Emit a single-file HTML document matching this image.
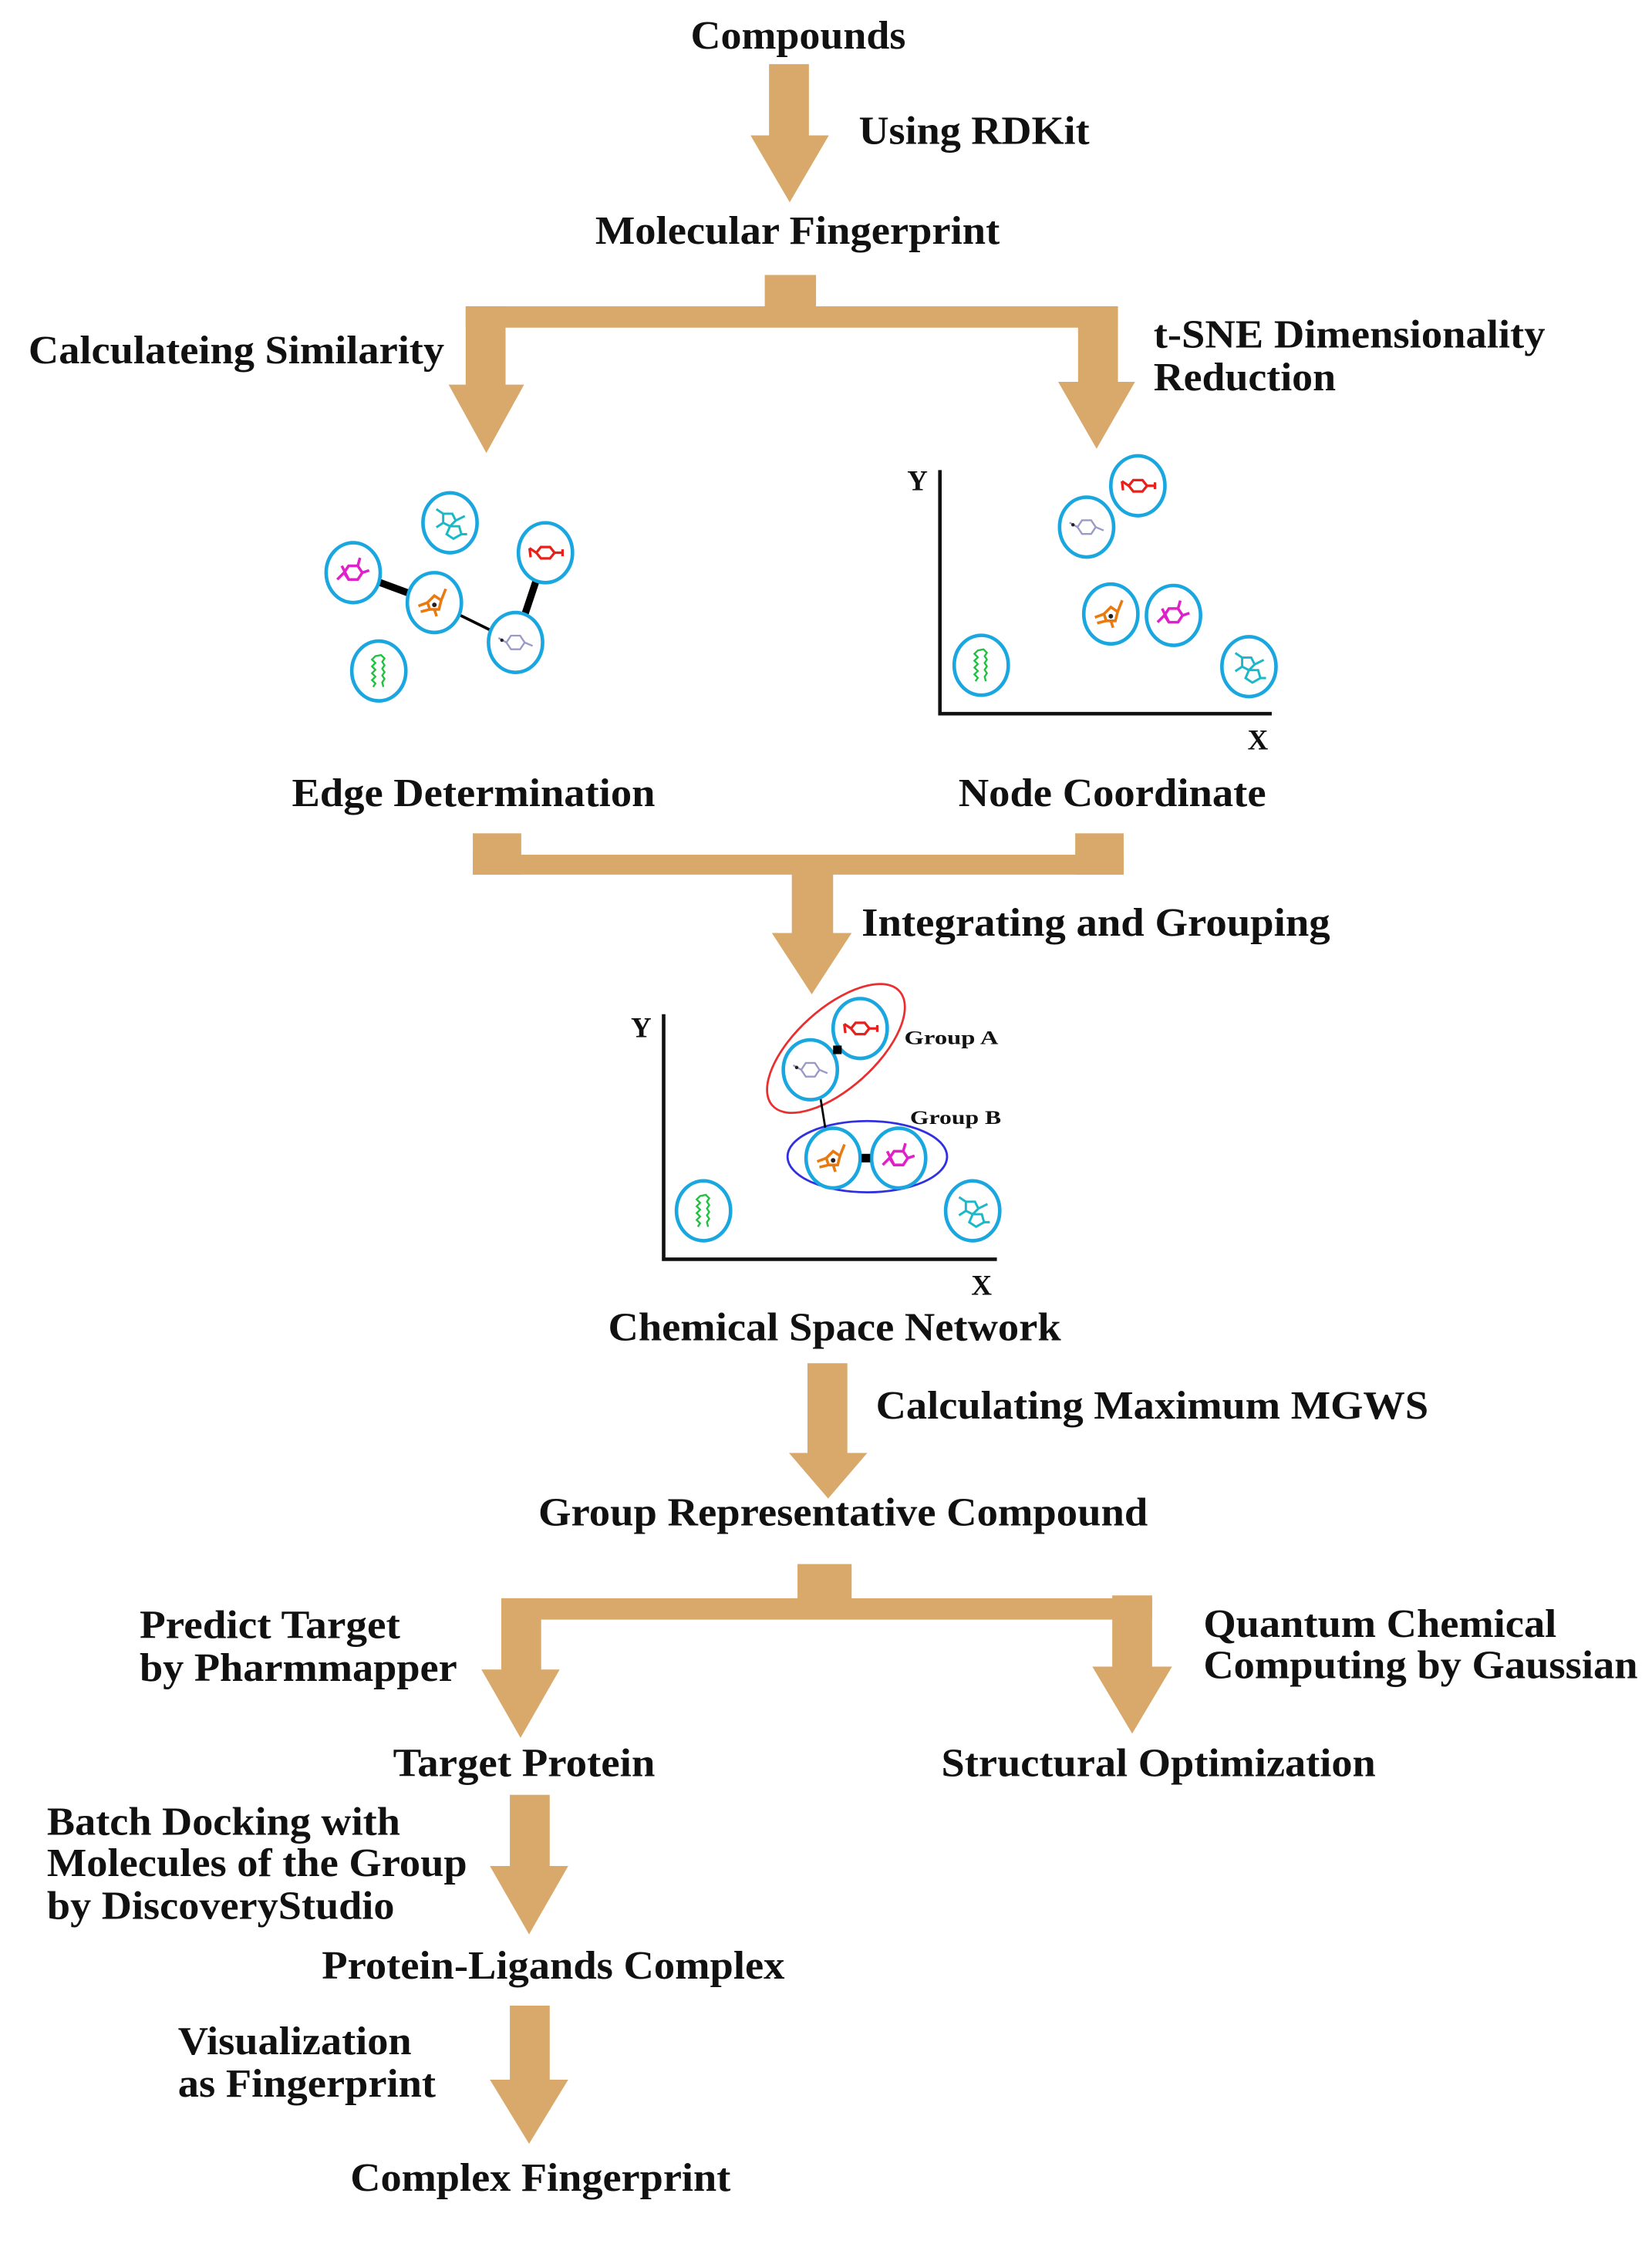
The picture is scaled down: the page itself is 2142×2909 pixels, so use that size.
<!DOCTYPE html>
<html><head><meta charset="utf-8"><style>
html,body{margin:0;padding:0;background:#fff;}
svg{display:block;}
text{font-family:"Liberation Serif",serif;font-weight:bold;fill:#111;}
</style></head><body>
<svg width="2142" height="2909" viewBox="0 0 1160 1575.3" xmlns="http://www.w3.org/2000/svg">
<defs>
<symbol id="mR" viewBox="-20 -20 40 40"><g fill="none" stroke="#e8201c" stroke-width="2.2"><polygon points="-4,-5 4,-5 8,0 4,5 -4,5 -8,0"/><path d="M-8,0 L-14,-4 M-14,-4 L-13,4 M8,0 L15,0 M15,-3 L15,3"/></g></symbol>
<symbol id="mL" viewBox="-20 -20 40 40"><g fill="none" stroke="#9a9ac8" stroke-width="1.6"><polygon points="-4,-6 4,-6 8,0 4,6 -4,6 -8,0"/><path d="M-8,0 L-15,-4 M8,0 L15,3"/><circle cx="-12" cy="-2" r="1.5" fill="#222" stroke="none"/></g></symbol>
<symbol id="mO" viewBox="-20 -20 40 40"><g fill="none" stroke="#e87a10" stroke-width="2.4"><polygon points="-6,0 0,-6 6,-2 4,6 -4,6"/><path d="M6,-2 L10,-12 M-6,0 L-14,3 M0,6 L2,12 M-4,6 L-12,8"/><circle cx="0" cy="2" r="2" fill="#222" stroke="none"/></g></symbol>
<symbol id="mM" viewBox="-20 -20 40 40"><g fill="none" stroke="#e020c8" stroke-width="2.4"><polygon points="-4,-6 4,-6 8,0 4,6 -4,6 -8,0"/><path d="M-8,0 L-14,6 M4,-6 L6,-13 M8,0 L14,-2 M-4,6 L-10,-6"/></g></symbol>
<symbol id="mC" viewBox="-20 -20 40 40"><g fill="none" stroke="#1ab8c8" stroke-width="2"><polygon points="-6,-8 2,-8 5,-2 0,3 -6,0"/><polygon points="0,3 8,3 10,10 3,14 -3,10"/><path d="M-6,-8 L-12,-12 M5,-2 L13,-6 M-6,0 L-12,4 M10,10 L15,10"/></g></symbol>
<symbol id="mG" viewBox="-20 -20 40 40"><g fill="none" stroke="#20c040" stroke-width="1.6"><path d="M-5,14 L-3,11 L-6,8 L-3,5 L-6,2 L-3,-1 L-6,-4 L-3,-7 L-6,-10 L-3,-13 L2,-14 L5,-11 L3,-8 L5,-5 L3,-2 L5,1 L3,4 L5,7 L3,10 L4,14"/></g></symbol>
</defs>
<g fill="#d9a96b">
<rect x="540" y="45" width="28" height="52"/><polygon points="527,95 582,95 554.5,142"/>
<rect x="537" y="193" width="36" height="24"/>
<rect x="327" y="215" width="458" height="15"/>
<rect x="327" y="215" width="28" height="57"/><polygon points="315,270 368,270 341.5,318"/>
<rect x="757" y="215" width="28" height="55"/><polygon points="743,268 797,268 770,315"/>
<rect x="332" y="585" width="34" height="29"/>
<rect x="755" y="585" width="34" height="29"/>
<rect x="332" y="600" width="457" height="14"/>
<rect x="556" y="612" width="29" height="45"/><polygon points="542,655 598,655 570,698"/>
<rect x="567" y="957" width="28" height="65"/><polygon points="554,1020 609,1020 581.5,1052"/>
<rect x="560" y="1098" width="38" height="26"/>
<rect x="352" y="1122" width="457" height="15"/>
<rect x="352" y="1122" width="28" height="52"/><polygon points="338,1172 393,1172 365.5,1220"/>
<rect x="781" y="1120" width="28" height="52"/><polygon points="767,1170 823,1170 795,1217"/>
<rect x="358" y="1260" width="28" height="52"/><polygon points="344,1310 399,1310 371.5,1358"/>
<rect x="358" y="1408" width="28" height="54"/><polygon points="344,1460 399,1460 371.5,1505"/>
</g>

<g font-size="28" lengthAdjust="spacingAndGlyphs">
<text x="485" y="34" font-size="28" textLength="151" lengthAdjust="spacingAndGlyphs">Compounds</text>
<text x="603" y="101" font-size="28" textLength="162" lengthAdjust="spacingAndGlyphs">Using RDKit</text>
<text x="418" y="171" font-size="28" textLength="284" lengthAdjust="spacingAndGlyphs">Molecular Fingerprint</text>
<text x="20" y="255" font-size="28" textLength="292" lengthAdjust="spacingAndGlyphs">Calculateing Similarity</text>
<text x="810" y="244" font-size="28" textLength="275" lengthAdjust="spacingAndGlyphs">t-SNE Dimensionality</text>
<text x="810" y="274" font-size="28" textLength="128" lengthAdjust="spacingAndGlyphs">Reduction</text>
<text x="205" y="566" font-size="28" textLength="255" lengthAdjust="spacingAndGlyphs">Edge Determination</text>
<text x="673" y="566" font-size="28" textLength="216" lengthAdjust="spacingAndGlyphs">Node Coordinate</text>
<text x="605" y="657" font-size="28" textLength="329" lengthAdjust="spacingAndGlyphs">Integrating and Grouping</text>
<text x="427" y="941" font-size="28" textLength="318" lengthAdjust="spacingAndGlyphs">Chemical Space Network</text>
<text x="615" y="996" font-size="28" textLength="388" lengthAdjust="spacingAndGlyphs">Calculating Maximum MGWS</text>
<text x="378" y="1071" font-size="28" textLength="428" lengthAdjust="spacingAndGlyphs">Group Representative Compound</text>
<text x="98" y="1150" font-size="28" textLength="183" lengthAdjust="spacingAndGlyphs">Predict Target</text>
<text x="98" y="1180" font-size="28" textLength="223" lengthAdjust="spacingAndGlyphs">by Pharmmapper</text>
<text x="845" y="1149" font-size="28" textLength="248" lengthAdjust="spacingAndGlyphs">Quantum Chemical</text>
<text x="845" y="1178" font-size="28" textLength="305" lengthAdjust="spacingAndGlyphs">Computing by Gaussian</text>
<text x="276" y="1247" font-size="28" textLength="184" lengthAdjust="spacingAndGlyphs">Target Protein</text>
<text x="661" y="1247" font-size="28" textLength="305" lengthAdjust="spacingAndGlyphs">Structural Optimization</text>
<text x="33" y="1288" font-size="28" textLength="248" lengthAdjust="spacingAndGlyphs">Batch Docking with</text>
<text x="33" y="1317" font-size="28" textLength="295" lengthAdjust="spacingAndGlyphs">Molecules of the Group</text>
<text x="33" y="1347" font-size="28" textLength="244" lengthAdjust="spacingAndGlyphs">by DiscoveryStudio</text>
<text x="226" y="1389" font-size="28" textLength="325" lengthAdjust="spacingAndGlyphs">Protein-Ligands Complex</text>
<text x="125" y="1442" font-size="28" textLength="164" lengthAdjust="spacingAndGlyphs">Visualization</text>
<text x="125" y="1472" font-size="28" textLength="181" lengthAdjust="spacingAndGlyphs">as Fingerprint</text>
<text x="246" y="1538" font-size="28" textLength="267" lengthAdjust="spacingAndGlyphs">Complex Fingerprint</text>
</g>

<g stroke="#000">
<line x1="248" y1="402" x2="305" y2="423" stroke-width="5"/>
<line x1="305" y1="423" x2="362" y2="451" stroke-width="2"/>
<line x1="362" y1="451" x2="383" y2="388" stroke-width="5"/>
</g>
<g fill="#fff" stroke="#1aa7e0" stroke-width="2.5">
<ellipse cx="248" cy="402" rx="19" ry="21"/><ellipse cx="316" cy="367" rx="19" ry="21"/>
<ellipse cx="383" cy="388" rx="19" ry="21"/><ellipse cx="305" cy="423" rx="19" ry="21"/>
<ellipse cx="362" cy="451" rx="19" ry="21"/><ellipse cx="266" cy="471" rx="19" ry="21"/>
</g>
<use href="#mM" x="232" y="386" width="32" height="32"/>
<use href="#mC" x="300" y="351" width="32" height="32"/>
<use href="#mR" x="367" y="372" width="32" height="32"/>
<use href="#mO" x="289" y="407" width="32" height="32"/>
<use href="#mL" x="346" y="435" width="32" height="32"/>
<use href="#mG" x="250" y="455" width="32" height="32"/>

<path d="M660,330 L660,501 L893,501" fill="none" stroke="#111" stroke-width="2.5"/>
<text x="637" y="344" font-size="20">Y</text>
<text x="876" y="526" font-size="20">X</text>
<g fill="#fff" stroke="#1aa7e0" stroke-width="2.5">
<ellipse cx="799" cy="341" rx="19" ry="21"/><ellipse cx="763" cy="370" rx="19" ry="21"/>
<ellipse cx="780" cy="431" rx="19" ry="21"/><ellipse cx="824" cy="432" rx="19" ry="21"/>
<ellipse cx="689" cy="467" rx="19" ry="21"/><ellipse cx="877" cy="468" rx="19" ry="21"/>
</g>
<use href="#mR" x="783" y="325" width="32" height="32"/>
<use href="#mL" x="747" y="354" width="32" height="32"/>
<use href="#mO" x="764" y="415" width="32" height="32"/>
<use href="#mM" x="808" y="416" width="32" height="32"/>
<use href="#mG" x="673" y="451" width="32" height="32"/>
<use href="#mC" x="861" y="452" width="32" height="32"/>

<path d="M466,712 L466,884 L700,884" fill="none" stroke="#111" stroke-width="2.5"/>
<text x="443" y="728" font-size="20">Y</text>
<text x="682" y="909" font-size="20">X</text>
<ellipse cx="587" cy="736" rx="60" ry="28" transform="rotate(-42 587 736)" fill="none" stroke="#e83030" stroke-width="1.5"/>
<ellipse cx="609" cy="812" rx="56" ry="25" fill="none" stroke="#3030e0" stroke-width="1.5"/>
<line x1="576" y1="770" x2="580" y2="795" stroke="#000" stroke-width="1.5"/>
<g fill="#fff" stroke="#1aa7e0" stroke-width="2.5">
<ellipse cx="604" cy="722" rx="19" ry="21"/><ellipse cx="569" cy="751" rx="19" ry="21"/>
<ellipse cx="585" cy="813" rx="19" ry="21"/><ellipse cx="631" cy="813" rx="19" ry="21"/>
<ellipse cx="494" cy="850" rx="19" ry="21"/><ellipse cx="683" cy="850" rx="19" ry="21"/>
</g>
<rect x="585" y="734" width="6" height="6" fill="#000"/>
<rect x="605" y="810" width="6" height="6" fill="#000"/>
<use href="#mR" x="588" y="706" width="32" height="32"/>
<use href="#mL" x="553" y="735" width="32" height="32"/>
<use href="#mO" x="569" y="797" width="32" height="32"/>
<use href="#mM" x="615" y="797" width="32" height="32"/>
<use href="#mG" x="478" y="834" width="32" height="32"/>
<use href="#mC" x="667" y="834" width="32" height="32"/>
<text x="635" y="733" font-size="14" textLength="66" lengthAdjust="spacingAndGlyphs">Group A</text>
<text x="639" y="789" font-size="14" textLength="64" lengthAdjust="spacingAndGlyphs">Group B</text>
</svg>
</body></html>
